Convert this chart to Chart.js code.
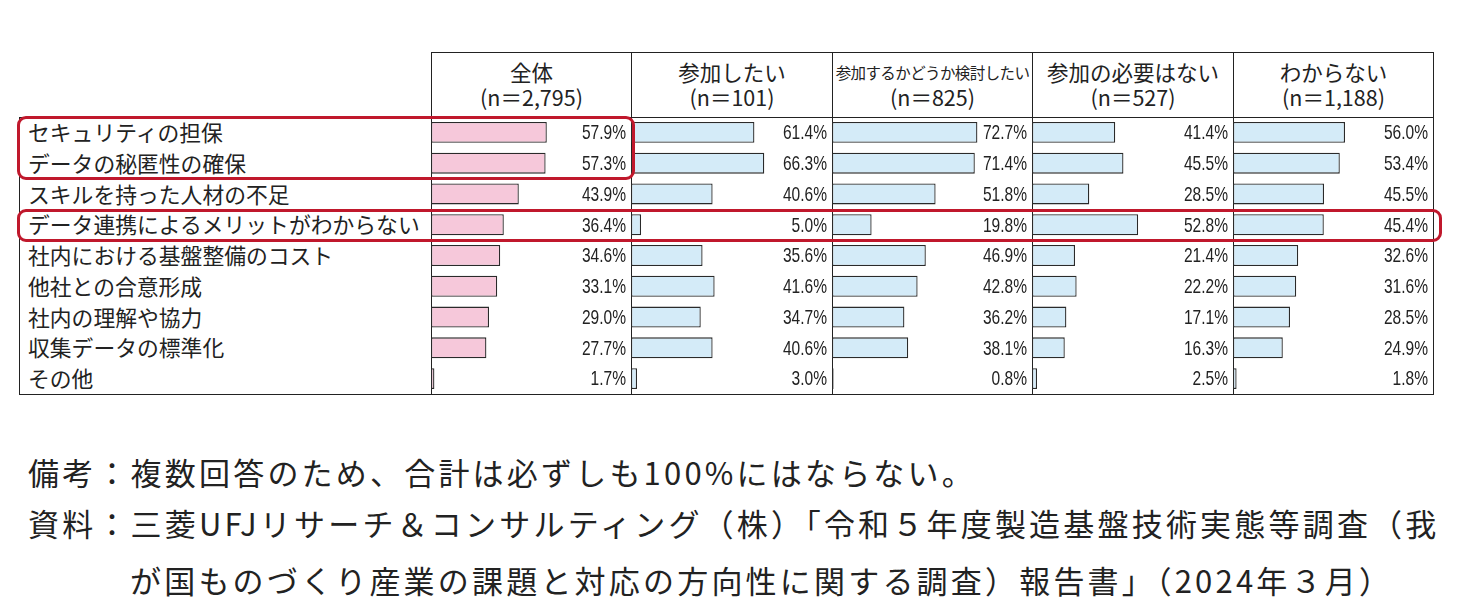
<!DOCTYPE html>
<html lang="ja">
<head>
<meta charset="UTF-8" />
<title>データ連携の課題</title>
<script src="https://cdn.jsdelivr.net/npm/chart.js@4.4.1/dist/chart.umd.min.js"></script>
<style>
  *{margin:0;padding:0;box-sizing:border-box}
  body{background:#fff;width:1462px;height:607px;overflow:hidden;font-family:"Noto Sans CJK JP","Noto Sans",sans-serif;color:#222}
  #wrap{position:relative;width:1462px;height:607px}
  .abs{position:absolute}
  .labcol{left:19px;top:117px;width:413px;height:278px;border:1px solid #222;border-right:none}
  .panel{top:52px;height:343px;border:1px solid #222}
  .head{position:absolute;left:0;right:0;top:0;height:65px;border-bottom:1px solid #222;text-align:center}
  .head div{position:absolute;left:0;right:0;white-space:nowrap;font-size:21.5px;line-height:26px}
  .chartbox{position:absolute;top:117px;height:277px}
  .row{position:absolute;left:28px;font-size:21.8px;white-space:nowrap}
  .redbox{position:absolute;border:3px solid #c0182c;border-radius:9px;z-index:5}
  .note{position:absolute;font-size:31px;letter-spacing:3.2px;white-space:nowrap;line-height:40px;color:#222}
</style>
</head>
<body>
<div id="wrap"></div>
<script>
  // data
  const categories = ['セキュリティの担保','データの秘匿性の確保','スキルを持った人材の不足','データ連携によるメリットがわからない','社内における基盤整備のコスト','他社との合意形成','社内の理解や協力','収集データの標準化','その他'];
  const groups = ['全体','参加したい','参加するかどうか検討したい','参加の必要はない','わからない'];
  const groupN = ['2,795','101','825','527','1,188'];
  const total    = [57.9,57.3,43.9,36.4,34.6,33.1,29.0,27.7,1.7];
  const want     = [61.4,66.3,40.6,5.0,35.6,41.6,34.7,40.6,3.0];
  const consider = [72.7,71.4,51.8,19.8,46.9,42.8,36.2,38.1,0.8];
  const noNeed   = [41.4,45.5,28.5,52.8,21.4,22.2,17.1,16.3,2.5];
  const unknown  = [56.0,53.4,45.5,45.4,32.6,31.6,28.5,24.9,1.8];
  const series = [total,want,consider,noNeed,unknown];
  const fills = ['#f6c8da','#d4ebf8','#d4ebf8','#d4ebf8','#d4ebf8'];

  const wrap = document.getElementById('wrap');
  const rowTop = 117, rowsH = 277, rowH = rowsH / categories.length;
  const panelX = 431, panelW = 200.4;

  // label column
  const lc = document.createElement('div');
  lc.className = 'abs labcol';
  wrap.appendChild(lc);
  categories.forEach((c,i)=>{
    const d = document.createElement('div');
    d.className = 'row';
    d.style.top = (rowTop + i*rowH) + 'px';
    d.style.height = rowH + 'px';
    d.style.lineHeight = rowH + 'px';
    d.textContent = c;
    wrap.appendChild(d);
  });

  // value labels at the right end of each panel (condensed)
  const valueLabels = {
    id:'valueLabels',
    afterDatasetsDraw(chart){
      const ctx = chart.ctx, area = chart.chartArea;
      const meta = chart.getDatasetMeta(0);
      meta.data.forEach((bar,i)=>{
        ctx.save();
        ctx.translate(area.right-5, bar.y+1);
        ctx.scale(0.74,1);
        ctx.font = '21px "Liberation Sans",Arial,sans-serif';
        ctx.fillStyle = '#222';
        ctx.textAlign = 'right';
        ctx.textBaseline = 'middle';
        ctx.fillText(chart.data.datasets[0].data[i].toFixed(1)+'%', 0, 0);
        ctx.restore();
      });
    }
  };

  groups.forEach((g,p)=>{
    const left = Math.round(panelX + p*panelW);
    const right = Math.round(panelX + (p+1)*panelW);
    const pan = document.createElement('div');
    pan.className = 'abs panel';
    pan.style.left = left + 'px';
    pan.style.width = (right-left+1) + 'px';
    const head = document.createElement('div');
    head.className = 'head';
    const l1 = document.createElement('div');
    l1.style.top = '6px';
    l1.textContent = g;
    if (g.length > 10) { l1.style.fontSize = '15.5px'; l1.style.letterSpacing = '-0.6px'; }
    const l2 = document.createElement('div');
    l2.style.top = '31px';
    l2.textContent = '(n＝' + groupN[p] + ')';
    head.appendChild(l1); head.appendChild(l2);
    pan.appendChild(head);
    wrap.appendChild(pan);

    const box = document.createElement('div');
    box.className = 'chartbox';
    box.style.left = left + 'px';
    box.style.width = (right-left) + 'px';
    const cv = document.createElement('canvas');
    box.appendChild(cv);
    wrap.appendChild(box);

    new Chart(cv.getContext('2d'), {
      type:'bar',
      data:{
        labels:categories,
        datasets:[{data:series[p],backgroundColor:fills[p],borderColor:'#2a2a2a',borderWidth:1.3,borderSkipped:false,barPercentage:0.68,categoryPercentage:1}]
      },
      options:{
        indexAxis:'y',
        responsive:true,
        maintainAspectRatio:false,
        animation:false,
        layout:{padding:0},
        plugins:{legend:{display:false},tooltip:{enabled:false}},
        scales:{
          x:{type:'linear',min:0,max:100,display:false},
          y:{display:false}
        }
      },
      plugins:[valueLabels]
    });
  });

  // highlight boxes
  [[17,116,618,64],[17,209,1425,33]].forEach(b=>{
    const r = document.createElement('div');
    r.className = 'redbox';
    r.style.left = b[0]+'px'; r.style.top = b[1]+'px';
    r.style.width = b[2]+'px'; r.style.height = b[3]+'px';
    wrap.appendChild(r);
  });

  // notes
  const notes = [
    [28,452,'備考：複数回答のため、合計は必ずしも100%にはならない。'],
    [28,503,'資料：三菱UFJリサーチ＆コンサルティング（株）「令和５年度製造基盤技術実態等調査（我'],
    [130,560,'が国ものづくり産業の課題と対応の方向性に関する調査）報告書」（2024年３月）']
  ];
  notes.forEach(n=>{
    const d = document.createElement('div');
    d.className = 'note';
    d.style.left = n[0]+'px'; d.style.top = n[1]+'px';
    d.textContent = n[2];
    wrap.appendChild(d);
  });
</script>
</body>
</html>
